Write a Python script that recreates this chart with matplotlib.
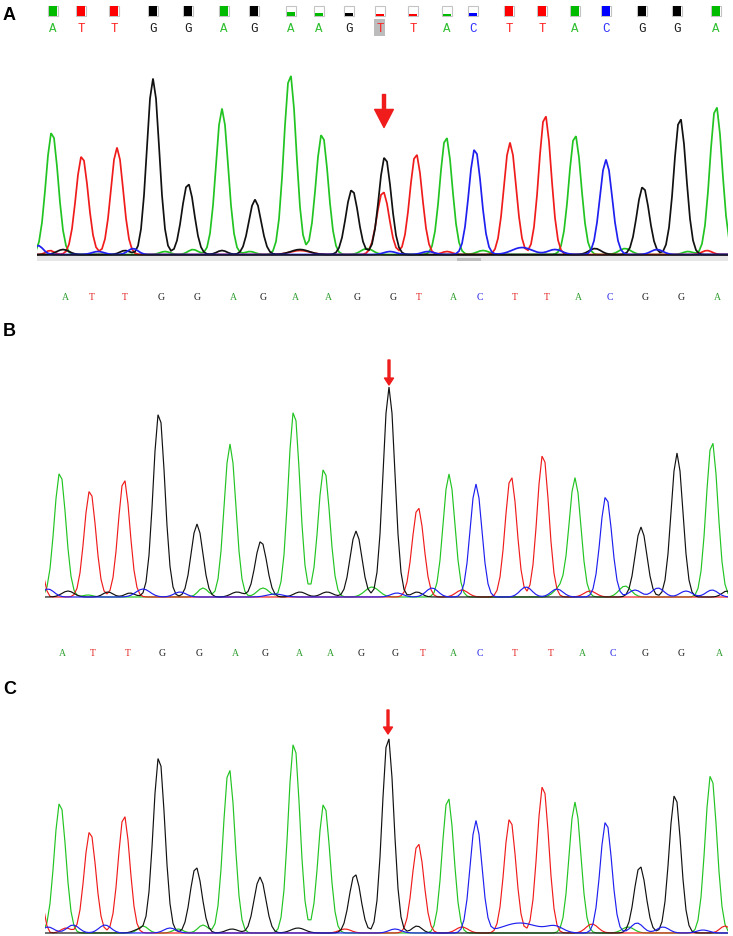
import numpy as np
import matplotlib
matplotlib.use("Agg")
import matplotlib.pyplot as plt
from matplotlib.transforms import blended_transform_factory

# ---- data ------------------------------------------------------------------
# peak calls (scan position, intensity) for the three traces
seq_A = list("ATTGGAGAAGGTACTTACGGA")
pos_A = [52, 82, 117, 153, 188, 222, 255, 290, 322, 352, 385, 416, 446, 475,
         510, 545, 575, 606, 643, 680, 716]
hgt_A = [123, 99, 107, 176, 71, 146, 55, 181, 121, 65, 98, 101, 118, 106,
         112, 140, 120, 95, 68, 137, 149]
# the heterozygous site in A: a second (T) peak under the G
het_A = ("T", 383, 63)

seq_B = list("ATTGGAGAAGGTACTTACGGA")
pos_B = [60, 90, 124, 159, 197, 230, 261, 294, 324, 356, 389, 418, 449, 476,
         511, 543, 575, 606, 641, 677, 712]
hgt_B = [125, 107, 118, 185, 73, 153, 56, 187, 129, 66, 210, 90, 123, 113,
         121, 143, 119, 101, 70, 144, 156]

seq_C = list("ATTGGAGAAGGTACTTACGGA")
pos_C = [60, 90, 124, 159, 196, 229, 260, 294, 324, 355, 388, 418, 448, 476,
         510, 543, 575, 606, 640, 675, 711]
hgt_C = [131, 102, 118, 177, 66, 165, 56, 191, 130, 59, 197, 90, 136, 112,
         115, 148, 131, 112, 67, 139, 159]

# small background bumps: (channel, position, height, width)
noise_A = [("C", 38, 9, 5), ("T", 50, 4, 4), ("G", 63, 5, 6), ("C", 98, 3, 6),
           ("G", 125, 4, 5), ("C", 133, 6, 5), ("A", 165, 3, 5), ("A", 193, 5, 5),
           ("G", 222, 4, 5), ("A", 250, 3, 5), ("G", 300, 5, 9), ("T", 300, 4, 10),
           ("A", 367, 6, 6), ("C", 390, 3, 6), ("C", 428, 3, 6), ("T", 447, 3, 5),
           ("A", 483, 4, 6), ("C", 522, 7, 10), ("C", 555, 5, 7), ("G", 595, 6, 6),
           ("A", 625, 6, 6), ("C", 657, 5, 6), ("A", 688, 3, 5), ("T", 707, 4, 5)]
noise_B = [("T", 42, 24, 3), ("C", 48, 8, 6), ("G", 68, 6, 6), ("A", 88, 2, 5),
           ("G", 108, 5, 5), ("G", 130, 4, 5), ("C", 143, 8, 7), ("C", 180, 5, 6),
           ("A", 203, 9, 5), ("G", 237, 5, 6), ("A", 263, 9, 6), ("C", 275, 3, 8),
           ("G", 300, 5, 6), ("G", 327, 5, 6), ("A", 372, 10, 7), ("C", 397, 4, 6),
           ("G", 417, 5, 5), ("C", 432, 9, 6), ("T", 462, 7, 6), ("C", 526, 10, 6),
           ("A", 560, 9, 6), ("C", 557, 8, 6), ("T", 590, 6, 6), ("A", 625, 11, 6),
           ("C", 635, 7, 6), ("C", 658, 9, 6), ("C", 686, 6, 6), ("C", 712, 7, 6),
           ("G", 727, 6, 5)]
noise_C = [("T", 42, 28, 3), ("C", 48, 6, 6), ("T", 66, 5, 5), ("C", 73, 8, 6),
           ("C", 105, 8, 6), ("G", 140, 4, 6), ("A", 143, 7, 5), ("C", 170, 5, 6),
           ("A", 178, 4, 5), ("A", 203, 8, 5), ("G", 232, 4, 6), ("G", 298, 5, 7),
           ("T", 345, 4, 6), ("C", 395, 4, 6), ("G", 417, 7, 5), ("T", 462, 6, 6),
           ("C", 520, 10, 18), ("C", 555, 6, 8), ("T", 592, 9, 6), ("A", 628, 6, 6),
           ("C", 637, 10, 6), ("C", 663, 6, 6), ("C", 703, 3, 6), ("T", 725, 7, 5)]

# base calls printed under A and B (their own positions)
call_pos_A = [65, 92, 125, 161, 197, 233, 263, 295, 328, 357, 393, 419, 453,
              480, 515, 547, 578, 610, 645, 681, 717]
call_pos_B = [62, 93, 128, 162, 199, 235, 265, 299, 330, 361, 395, 423, 453,
              480, 515, 551, 582, 613, 645, 681, 719]

# header of panel A: called bases and their quality bars
head_seq = list("ATTGGAGAAGTTACTTACGGA")
head_pos = [53, 81, 114, 153, 188, 224, 254, 291, 319, 349, 380, 413, 447,
            473, 509, 542, 575, 606, 642, 677, 716]
head_qual = [1, 1, 1, 1, 1, 1, 1, 0.42, 0.28, 0.28, 0.15, 0.15, 0.12, 0.33,
             1, 1, 1, 1, 1, 1, 1]
marked = 10  # index of the highlighted call

trace_col = {"A": "#22c422", "C": "#1f1ff0", "G": "#111111", "T": "#f01c1c"}
text_col = {"A": "#2e9e2e", "C": "#2424e6", "G": "#1a1a1a", "T": "#e42020"}
head_col = {"A": "#2fbf2f", "C": "#3030ff", "G": "#1a1a1a", "T": "#ff2020"}
box_col = {"A": "#00bb00", "C": "#0000ff", "G": "#000000", "T": "#ff0000"}

W, H = 733, 937
fig = plt.figure(figsize=(W / 100, H / 100), dpi=100, facecolor="white")


def px_axes(x0, x1, ytop, ybot, base):
    ax = fig.add_axes([x0 / W, 1 - ybot / H, (x1 - x0) / W, (ybot - ytop) / H])
    ax.set_xlim(x0, x1)
    ax.set_ylim(base - ybot, base - ytop)
    ax.axis("off")
    return ax


def draw_traces(ax, seq, pos, hgt, noise, sigma, lw, extra=()):
    x = np.arange(ax.get_xlim()[0] - 4, ax.get_xlim()[1] + 4, 3.0)
    peaks = list(zip(seq, pos, hgt, [sigma] * len(seq))) + list(noise)
    peaks += [(c, p, h, sigma) for c, p, h in extra]
    for ch in ["A", "T", "G", "C"]:
        y = np.zeros_like(x)
        for c, p, h, s in peaks:
            if c == ch:
                y += h * np.exp(-0.5 * ((x - p) / s) ** 2)
        ax.plot(x, y, color=trace_col[ch], lw=lw, solid_joinstyle="miter")


# ---- panel A ---------------------------------------------------------------
axA = px_axes(37, 728, 60, 264, 255.5)
draw_traces(axA, seq_A, pos_A, hgt_A, noise_A, 6.1, 1.25, extra=[het_A])
axA.fill_between([37, 728], -1.5, -6.5, color="#e6e6e6", lw=0)
axA.fill_between([457, 481], -3.5, -6.5, color="#bdbdbd", lw=0)
axA.plot([37, 728], [0, 0], color="#111111", lw=1.1)
axA.annotate("", xy=(pos_A[10] - 1, 127), xytext=(pos_A[10] - 1, 160),
             arrowprops=dict(color="#f01c1c", width=2.2, headwidth=13.5,
                             headlength=13, shrink=0))

head = fig.add_axes([37 / W, 1 - 45 / H, (728 - 37) / W, 45 / H])
head.set_xlim(37, 728)
head.set_ylim(45, 0)
head.axis("off")
head.bar(head_pos, 10, bottom=7, width=10, color="white", edgecolor="#c4c4c4",
         lw=0.8)
for p, b, q in zip(head_pos, head_seq, head_qual):
    head.bar(p, 9.2 * q, bottom=16.6 - 9.2 * q, width=8.4, color=box_col[b], lw=0)
head.bar(head_pos[marked], 17, bottom=20, width=11, color="#bcbcbc", lw=0)
for p, b in zip(head_pos, head_seq):
    head.text(p, 28.5, b, color=head_col[b], ha="center", va="center",
              fontsize=9, family="Liberation Mono")

trA = blended_transform_factory(axA.transData, fig.transFigure)
for p, b in zip(call_pos_A, seq_A):
    fig.text(p, 1 - 297 / H, b, transform=trA, color=text_col[b], ha="center",
             va="center", fontsize=7, family="Liberation Serif")

# ---- panel B ---------------------------------------------------------------
axB = px_axes(45, 728, 355, 601, 598)
draw_traces(axB, seq_B, pos_B, hgt_B, noise_B, 5.8, 0.85)
axB.annotate("", xy=(pos_B[10], 212), xytext=(pos_B[10], 237),
             arrowprops=dict(color="#f01c1c", width=1.4, headwidth=6.5,
                             headlength=5, shrink=0))
trB = blended_transform_factory(axB.transData, fig.transFigure)
for p, b in zip(call_pos_B, seq_B):
    fig.text(p, 1 - 653 / H, b, transform=trB, color=text_col[b], ha="center",
             va="center", fontsize=7, family="Liberation Serif")

# ---- panel C ---------------------------------------------------------------
axC = px_axes(45, 728, 705, 937, 934)
draw_traces(axC, seq_C, pos_C, hgt_C, noise_C, 5.8, 0.85)
axC.annotate("", xy=(pos_C[10], 199), xytext=(pos_C[10], 223),
             arrowprops=dict(color="#f01c1c", width=1.4, headwidth=6.5,
                             headlength=5, shrink=0))

for lab, yy in [("A", 15), ("B", 332), ("C", 690)]:
    fig.text(3 / W, 1 - yy / H, lab, fontsize=13, fontweight="bold",
             family="Liberation Sans", ha="left", va="center")

fig.savefig("out.png", dpi=100, facecolor="white")
